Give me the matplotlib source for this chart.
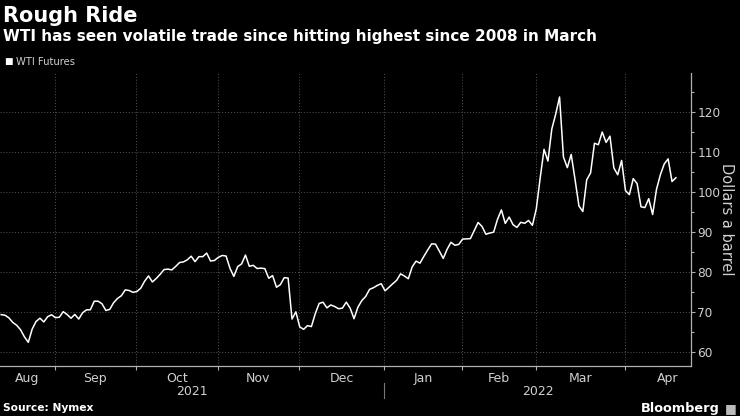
import numpy as np
import matplotlib.pyplot as plt
from matplotlib.ticker import MultipleLocator
from matplotlib.transforms import blended_transform_factory

# WTI futures, daily settles from 11 Aug 2021 to 20 Apr 2022 (trading days)
wti = [
    # Aug 2021
    69.25, 69.09, 68.44, 67.29, 66.59, 65.46, 63.69, 62.32, 65.64, 67.54,
    68.36, 67.42, 68.74, 69.21, 68.50,
    # Sep
    68.59, 69.99, 69.29, 68.35, 69.30, 68.14, 69.72, 70.45, 70.46, 72.61,
    72.61, 71.97, 70.29, 70.56, 72.23, 73.30, 73.98, 75.45, 75.29, 74.83,
    75.03,
    # Oct
    75.88, 77.62, 78.93, 77.43, 78.30, 79.35, 80.52, 80.64, 80.44, 81.31,
    82.28, 82.44, 82.96, 83.87, 82.50, 83.76, 83.76, 84.65, 82.66, 82.81,
    83.57,
    # Nov
    84.05, 83.91, 80.86, 78.81, 81.27, 81.93, 84.15, 81.34, 81.59, 80.79,
    80.88, 80.76, 78.36, 79.01, 76.10, 76.75, 78.50, 78.39, 68.15, 69.95,
    66.18,
    # Dec
    65.57, 66.50, 66.26, 69.49, 72.05, 72.36, 70.94, 71.67, 71.29, 70.73,
    70.87, 72.38, 70.86, 68.23, 71.12, 72.76, 73.79, 75.57, 75.98, 76.56,
    76.99, 75.21,
    # Jan 2022
    76.08, 76.99, 77.85, 79.46, 78.90, 78.23, 81.22, 82.64, 82.12, 83.82,
    85.43, 86.96, 86.90, 85.14, 83.31, 85.60, 87.35, 86.61, 86.82, 88.15,
    # Feb
    88.20, 88.26, 90.27, 92.31, 91.32, 89.36, 89.66, 89.88, 93.10, 95.46,
    92.07, 93.66, 91.76, 91.07, 92.35, 92.10, 92.81, 91.59, 95.72,
    # Mar
    103.41, 110.60, 107.67, 115.68, 119.40, 123.70, 108.70, 106.02, 109.33,
    103.01, 96.44, 95.04, 102.98, 104.70, 112.12, 111.76, 114.93, 112.34,
    113.90, 105.96, 104.24, 107.82, 100.28,
    # Apr
    99.27, 103.28, 102.03, 96.23, 96.03, 98.26, 94.29, 100.60, 104.25,
    106.95, 108.21, 102.56, 103.50,
]

month_names = ['Aug', 'Sep', 'Oct', 'Nov', 'Dec', 'Jan', 'Feb', 'Mar', 'Apr']
month_start = [0, 15, 36, 57, 78, 100, 120, 139, 162]   # index of first trading day
years = ['2021', '2022']
y_ticks = [60, 70, 80, 90, 100, 110, 120]

BG = '#000000'
GRID = '#555555'
TXT = '#d0d0d0'
AXC = '#b0b0b0'

fig = plt.figure(figsize=(7.4, 4.16), dpi=100)
fig.patch.set_facecolor(BG)
ax = fig.add_axes([0.0, 0.1202, 0.9338, 0.7043])
ax.set_facecolor(BG)

x = np.arange(len(wti))
ax.plot(x, wti, color='white', lw=1.1, zorder=3)

x0, x1 = -0.3, 177.9
ax.set_xlim(x0, x1)
ax.set_ylim(56.4, 129.7)

# month boundaries sit a touch before the first trading day
bounds = [m - 1.2 for m in month_start[1:]]
for b in bounds:
    ax.axvline(b, color=GRID, lw=0.7, ls=(0, (1, 2)), zorder=1)
for v in y_ticks:
    ax.axhline(v, color=GRID, lw=0.7, ls=(0, (1, 2)), zorder=1)

edges = [x0] + bounds + [bounds[-1] + 22]
centers = [(a + b) / 2 for a, b in zip(edges[:-1], edges[1:])]
ax.set_xticks(bounds)
ax.set_xticklabels([])
ax.set_xticks(centers, minor=True)
ax.set_xticklabels(month_names, minor=True, fontsize=9, color=TXT)
ax.tick_params(axis='x', which='major', length=3, color=AXC, width=0.8)
ax.tick_params(axis='x', which='minor', length=0, pad=4)

tr = blended_transform_factory(ax.transData, ax.transAxes)
yr_split = bounds[4]
ax.text((x0 + yr_split) / 2, -0.0887, years[0], transform=tr, ha='center', va='center',
        fontsize=9, color=TXT)
ax.text((yr_split + x1) / 2, -0.0887, years[1], transform=tr, ha='center', va='center',
        fontsize=9, color=TXT)
ax.plot([yr_split, yr_split], [-0.058, -0.109], transform=tr, color='#777777', lw=0.8,
        clip_on=False)

ax.yaxis.tick_right()
ax.set_yticks(y_ticks)
ax.set_yticklabels([str(v) for v in y_ticks], fontsize=8.7, color=TXT)
ax.yaxis.set_minor_locator(MultipleLocator(5))
ax.tick_params(axis='y', which='major', length=3, color=AXC, width=0.8, pad=1.5)
ax.tick_params(axis='y', which='minor', length=2, color=AXC, width=0.8)
ax.yaxis.set_label_position('right')
ax.set_ylabel('Dollars a barrel', rotation=270, labelpad=10, fontsize=10.5, color=TXT)

for side in ['left', 'top']:
    ax.spines[side].set_visible(False)
for side in ['right', 'bottom']:
    ax.spines[side].set_color(AXC)
    ax.spines[side].set_linewidth(0.9)

fig.text(0.004, 0.985, 'Rough Ride', ha='left', va='top', fontsize=15,
         fontweight='bold', color='white')
fig.text(0.004, 0.93, 'WTI has seen volatile trade since hitting highest since 2008 in March',
         ha='left', va='top', fontsize=11, fontweight='bold', color='white')
fig.text(0.006, 0.851, '\u25A0', ha='left', va='center', fontsize=6.5, color='white')
fig.text(0.021, 0.851, 'WTI Futures', ha='left', va='center', fontsize=7.2, color=TXT)

fig.text(0.004, 0.019, 'Source: Nymex', ha='left', va='center', fontsize=7.7,
         fontweight='bold', color='white')
fig.text(0.972, 0.019, 'Bloomberg', ha='right', va='center', fontsize=9.3,
         fontweight='bold', color='white')
fig.text(0.979, 0.019, '\u25A0', ha='left', va='center', fontsize=9, color='#bbbbbb')

fig.savefig('out.png', dpi=100, facecolor=BG)
